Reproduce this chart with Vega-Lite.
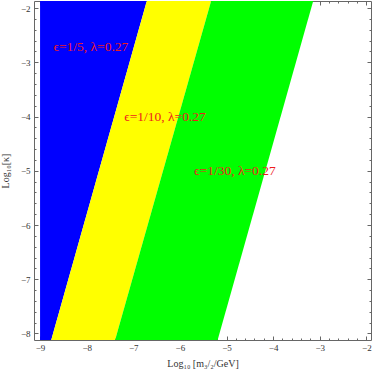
{
  "$schema": "https://vega.github.io/schema/vega-lite/v6.json",
  "width": 337,
  "height": 339,
  "autosize": "none",
  "padding": {"left": 34, "top": 1, "right": 3, "bottom": 31},
  "background": "white",
  "config": {
    "view": {"stroke": "#666666", "strokeWidth": 1},
    "font": "Liberation Serif",
    "axis": {
      "grid": false,
      "domain": false,
      "tickColor": "#666666",
      "labelFont": "Liberation Serif",
      "labelFontSize": 9,
      "labelColor": "#333333",
      "titleFont": "Liberation Serif",
      "titleFontWeight": "normal",
      "titleFontSize": 10,
      "titleColor": "#333333"
    }
  },
  "layer": [
    {
      "data": {
        "values": [
          {"band": "blue", "k": -8.12, "x0": -9, "x1": -8.76},
          {"band": "blue", "k": -1.87, "x0": -9, "x1": -6.71},
          {"band": "yellow", "k": -8.12, "x0": -8.76, "x1": -7.39},
          {"band": "yellow", "k": -1.87, "x0": -6.71, "x1": -5.33},
          {"band": "green", "k": -8.12, "x0": -7.39, "x1": -5.19},
          {"band": "green", "k": -1.87, "x0": -5.33, "x1": -3.14}
        ]
      },
      "mark": {"type": "area", "orient": "horizontal", "clip": true},
      "encoding": {
        "y": {
          "field": "k", "type": "quantitative",
          "scale": {"domain": [-8.12, -1.87], "nice": false, "zero": false},
          "axis": {
            "orient": "left",
            "title": "Log₁₀[κ]",
            "titlePadding": 10,
            "values": [-8,-7.8,-7.6,-7.4,-7.2,-7,-6.8,-6.6,-6.4,-6.2,-6,-5.8,-5.6,-5.4,-5.2,-5,-4.8,-4.6,-4.4,-4.2,-4,-3.8,-3.6,-3.4,-3.2,-3,-2.8,-2.6,-2.4,-2.2,-2],
            "tickSize": {"condition": {"test": "datum.value % 1 == 0", "value": -4}, "value": -2},
            "labelPadding": 8,
            "labelExpr": "datum.value % 1 == 0 ? '−' + abs(datum.value) : ''"
          }
        },
        "x": {
          "field": "x0", "type": "quantitative",
          "scale": {"domain": [-9.13, -1.9], "nice": false, "zero": false},
          "axis": {
            "orient": "bottom",
            "title": "Log₁₀ [m₃/₂/GeV]",
            "titlePadding": 6,
            "values": [-9,-8.8,-8.6,-8.4,-8.2,-8,-7.8,-7.6,-7.4,-7.2,-7,-6.8,-6.6,-6.4,-6.2,-6,-5.8,-5.6,-5.4,-5.2,-5,-4.8,-4.6,-4.4,-4.2,-4,-3.8,-3.6,-3.4,-3.2,-3,-2.8,-2.6,-2.4,-2.2,-2],
            "tickSize": {"condition": {"test": "datum.value % 1 == 0", "value": -4}, "value": -2},
            "labelPadding": 7,
            "labelExpr": "datum.value % 1 == 0 ? '−' + abs(datum.value) : ''"
          }
        },
        "x2": {"field": "x1"},
        "color": {
          "field": "band", "type": "nominal", "legend": null,
          "scale": {"domain": ["blue", "yellow", "green"], "range": ["#0000ff", "#ffff00", "#00ff00"]}
        }
      }
    },
    {
      "data": {
        "values": [
          {"label": "ϵ=1/5, λ=0.27", "x": -7.91, "y": -2.72},
          {"label": "ϵ=1/10, λ=0.27", "x": -6.32, "y": -4.01},
          {"label": "ϵ=1/30, λ=0.27", "x": -4.82, "y": -5.0}
        ]
      },
      "mark": {"type": "text", "font": "Liberation Serif", "fontSize": 13.5, "color": "#ee1c1c"},
      "encoding": {
        "text": {"field": "label"},
        "x": {
          "field": "x", "type": "quantitative",
          "scale": {"domain": [-9.13, -1.9], "nice": false, "zero": false},
          "axis": {
            "orient": "top", "title": null, "labels": false,
            "values": [-9,-8.8,-8.6,-8.4,-8.2,-8,-7.8,-7.6,-7.4,-7.2,-7,-6.8,-6.6,-6.4,-6.2,-6,-5.8,-5.6,-5.4,-5.2,-5,-4.8,-4.6,-4.4,-4.2,-4,-3.8,-3.6,-3.4,-3.2,-3,-2.8,-2.6,-2.4,-2.2,-2],
            "tickSize": {"condition": {"test": "datum.value % 1 == 0", "value": -4}, "value": -2}
          }
        },
        "y": {
          "field": "y", "type": "quantitative",
          "scale": {"domain": [-8.12, -1.87], "nice": false, "zero": false},
          "axis": {
            "orient": "right", "title": null, "labels": false,
            "values": [-8,-7.8,-7.6,-7.4,-7.2,-7,-6.8,-6.6,-6.4,-6.2,-6,-5.8,-5.6,-5.4,-5.2,-5,-4.8,-4.6,-4.4,-4.2,-4,-3.8,-3.6,-3.4,-3.2,-3,-2.8,-2.6,-2.4,-2.2,-2],
            "tickSize": {"condition": {"test": "datum.value % 1 == 0", "value": -4}, "value": -2}
          }
        }
      }
    }
  ],
  "resolve": {"axis": {"x": "independent", "y": "independent"}}
}
